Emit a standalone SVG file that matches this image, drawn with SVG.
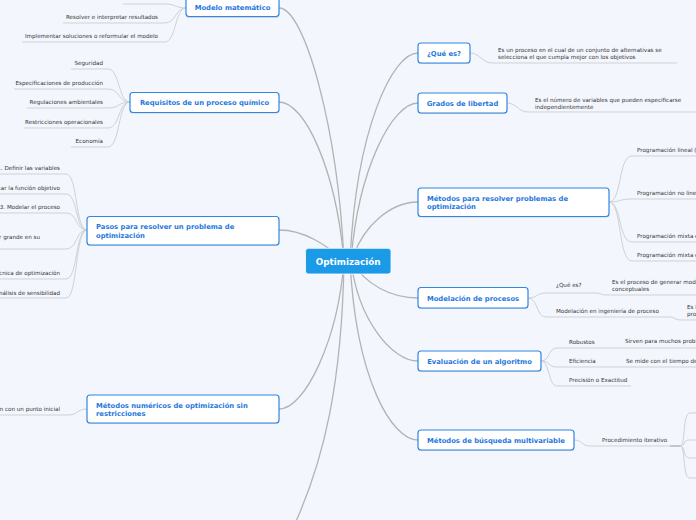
<svg xmlns="http://www.w3.org/2000/svg" width="696" height="520" viewBox="0 0 696 520">
<style>
.bg{fill:#f3f6fd}
.main{fill:none;stroke:#b3b3b3;stroke-width:1.3}
.leaf{fill:none;stroke:#cfd1d6;stroke-width:1}
.box{fill:#ffffff;stroke:#2f86e4;stroke-width:1.2}
.shadow{fill:#b9c3d3;opacity:0.7}
.nt{font-family:"DejaVu Sans","Liberation Sans",sans-serif;font-weight:bold;font-size:6.8px;fill:#1f78de}
.lt{font-family:"DejaVu Sans","Liberation Sans",sans-serif;font-size:5.6px;fill:#333333}
.ct{font-family:"DejaVu Sans","Liberation Sans",sans-serif;font-weight:bold;font-size:8.8px;fill:#ffffff}
.e{text-anchor:end}
.m{text-anchor:middle}
</style>
<rect class="bg" x="0" y="0" width="696" height="520"/>
<g id="connectors">
<path class="main" d="M279 8 C305 8,338 130,344 261"/>
<path class="main" d="M279 102 C305 102,336 170,344 261"/>
<path class="main" d="M279 230 C305 230,325 245,346 261"/>
<path class="main" d="M279 409 C305 409,338 340,344 261"/>
<path class="main" d="M344 261 C342 380,325 460,292 530"/>
<path class="main" d="M418 53 C392 53,356 130,350 261"/>
<path class="main" d="M418 103 C392 103,358 170,351 261"/>
<path class="main" d="M418 202 C392 202,362 225,352 261"/>
<path class="main" d="M418 298 C392 298,365 285,352 261"/>
<path class="main" d="M418 361 C392 361,358 320,351 261"/>
<path class="main" d="M418 440 C392 440,356 380,350 261"/>
<path class="leaf" d="M186 8 C176 8,175 4,165 4 H123"/>
<path class="leaf" d="M186 8 C175 8,176 23,165 23 H63"/>
<path class="leaf" d="M186 8 C175 8,176 42,165 42 H22"/>
<path class="leaf" d="M130 102 C118 102,120 69,108 69 H71"/>
<path class="leaf" d="M130 102 C118 102,120 89,108 89 H14"/>
<path class="leaf" d="M130 102 C118 102,120 108,108 108 H27"/>
<path class="leaf" d="M130 102 C118 102,120 128,108 128 H24"/>
<path class="leaf" d="M130 102 C118 102,120 147,108 147 H71"/>
<path class="leaf" d="M87 230 C75 230,78 174,66 174 H0"/>
<path class="leaf" d="M87 230 C75 230,78 194,66 194 H0"/>
<path class="leaf" d="M87 230 C75 230,78 213,66 213 H0"/>
<path class="leaf" d="M87 230 C75 230,78 249,66 249 H0"/>
<path class="leaf" d="M87 230 C75 230,78 279,66 279 H0"/>
<path class="leaf" d="M87 230 C75 230,78 298,66 298 H0"/>
<path class="leaf" d="M87 409 C77 409,78 415,68 415 H0"/>
<path class="leaf" d="M470 53 C480 53,482 63,492 63 H677"/>
<path class="leaf" d="M507 103 C517 103,518 112,528 112 H696"/>
<path class="leaf" d="M609 202 C622 202,618 156,632 156 H696"/>
<path class="leaf" d="M609 202 C622 202,618 199,632 199 H696"/>
<path class="leaf" d="M609 202 C622 202,618 242,632 242 H696"/>
<path class="leaf" d="M609 202 C622 202,618 261,632 261 H696"/>
<path class="leaf" d="M528 298 C538 298,536 293,546 293 H596 C601 293,601 295,606 295 H696"/>
<path class="leaf" d="M528 298 C538 298,536 317,546 317 H670 C675 317,675 320,680 320 H696"/>
<path class="leaf" d="M541 361 C550 361,548 348,557 348 H696"/>
<path class="leaf" d="M541 361 C550 361,548 367,557 367 H696"/>
<path class="leaf" d="M541 361 C550 361,548 386,557 386 H631"/>
<path class="leaf" d="M574 440 C583 440,581 446,590 446 H680"/>
<path class="leaf" d="M680 446 C686 446,682 413,690 413 H696"/>
<path class="leaf" d="M680 446 C686 446,682 440,690 440 H696"/>
<path class="leaf" d="M680 446 C686 446,682 458,690 458 H696"/>
<path class="leaf" d="M680 446 C686 446,682 478,690 478 H696"/>
<rect x="670" y="445.2" width="10" height="1.6" fill="#bdbdbd"/>
</g>
<g id="leaves-left" class="lt">
<text class="e" x="158" y="19">Resolver e interpretar resultados</text>
<text class="e" x="158" y="38">Implementar soluciones o reformular el modelo</text>
<text class="e" x="103" y="65">Seguridad</text>
<text class="e" x="103" y="85">Especificaciones de producción</text>
<text class="e" x="103" y="104">Regulaciones ambientales</text>
<text class="e" x="103" y="124">Restricciones operacionales</text>
<text class="e" x="103" y="143">Economía</text>
<text class="e" x="60" y="170">1. Definir las variables</text>
<text class="e" x="60" y="190">car la función objetivo</text>
<text class="e" x="60" y="209">3. Modelar el proceso</text>
<text class="e" x="40" y="239">r grande en su</text>
<text class="e" x="60" y="275">cnica de optimización</text>
<text class="e" x="60" y="295">nálisis de sensibilidad</text>
<text class="e" x="60" y="411">n con un punto inicial</text>
</g>
<g id="leaves-right" class="lt">
<text x="498" y="52">Es un proceso en el cual de un conjunto de alternativas se</text>
<text x="498" y="59">selecciona el que cumpla mejor con los objetivos</text>
<text x="535" y="102">Es el número de variables que pueden especificarse</text>
<text x="535" y="109">independientemente</text>
<text x="637" y="152">Programación lineal (</text>
<text x="637" y="195">Programación no linea</text>
<text x="637" y="238">Programación mixta e</text>
<text x="637" y="257">Programación mixta e</text>
<text x="556" y="287">¿Qué es?</text>
<text x="612" y="284">Es el proceso de generar mode</text>
<text x="612" y="291">conceptuales</text>
<text x="556" y="313">Modelación en ingeniería de proceso</text>
<text x="687" y="309">Es l</text>
<text x="687" y="316">pro</text>
<text x="569" y="344">Robustos</text>
<text x="625" y="343">Sirven para muchos probl</text>
<text x="569" y="363">Eficiencia</text>
<text x="626" y="363">Se mide con el tiempo de</text>
<text x="569" y="382">Precisión o Exactitud</text>
<text x="602" y="442">Procedimiento iterativo</text>
</g>
<g id="n-modelo">
<rect class="shadow" x="186" y="-3" width="93" height="21" rx="3"/>
<rect class="box" x="186" y="-4" width="93" height="20.5" rx="3"/>
<text class="nt m" x="232.5" y="9.8">Modelo matemático</text>
</g>
<g id="n-requisitos">
<rect class="shadow" x="130" y="93.5" width="149" height="20" rx="3"/>
<rect class="box" x="130" y="92.5" width="149" height="20" rx="3"/>
<text class="nt m" x="204.5" y="104.8">Requisitos de un proceso químico</text>
</g>
<g id="n-pasos">
<rect class="shadow" x="87" y="217.5" width="192" height="28.5" rx="3"/>
<rect class="box" x="87" y="216.5" width="192" height="28.5" rx="3"/>
<text class="nt" x="96" y="229.2">Pasos para resolver un problema de</text>
<text class="nt" x="96" y="238.2">optimización</text>
</g>
<g id="n-numericos">
<rect class="shadow" x="87" y="396" width="192" height="28" rx="3"/>
<rect class="box" x="87" y="395" width="192" height="28" rx="3"/>
<text class="nt" x="96" y="408.2">Métodos numéricos de optimización sin</text>
<text class="nt" x="96" y="416.2">restricciones</text>
</g>
<g id="n-central">
<rect x="305.5" y="248.3" width="85.5" height="25.7" rx="3" fill="#1b9ae7" stroke="#ffffff" stroke-width="0.8"/>
<text class="ct m" x="348.2" y="265.4">Optimización</text>
</g>
<g id="n-quees">
<rect class="shadow" x="418" y="44" width="52" height="20" rx="3"/>
<rect class="box" x="418" y="43" width="52" height="20" rx="3"/>
<text class="nt m" x="444" y="55.5">¿Qué es?</text>
</g>
<g id="n-grados">
<rect class="shadow" x="418" y="94" width="89" height="20" rx="3"/>
<rect class="box" x="418" y="93" width="89" height="20" rx="3"/>
<text class="nt m" x="462.5" y="105.5">Grados de libertad</text>
</g>
<g id="n-metodos">
<rect class="shadow" x="418" y="189" width="191" height="28.5" rx="3"/>
<rect class="box" x="418" y="188" width="191" height="28.5" rx="3"/>
<text class="nt" x="427" y="200.8">Métodos para resolver problemas de</text>
<text class="nt" x="427" y="209.2">optimización</text>
</g>
<g id="n-modelacion">
<rect class="shadow" x="418" y="288.5" width="110" height="20.5" rx="3"/>
<rect class="box" x="418" y="287.5" width="110" height="20.5" rx="3"/>
<text class="nt m" x="473" y="300.5">Modelación de procesos</text>
</g>
<g id="n-evaluacion">
<rect class="shadow" x="418" y="352" width="123" height="20" rx="3"/>
<rect class="box" x="418" y="351" width="123" height="20" rx="3"/>
<text class="nt m" x="479.5" y="363.5">Evaluación de un algoritmo</text>
</g>
<g id="n-busqueda">
<rect class="shadow" x="418" y="431" width="156" height="20" rx="3"/>
<rect class="box" x="418" y="430" width="156" height="20" rx="3"/>
<text class="nt m" x="496" y="442.5">Métodos de búsqueda multivariable</text>
</g>
</svg>
